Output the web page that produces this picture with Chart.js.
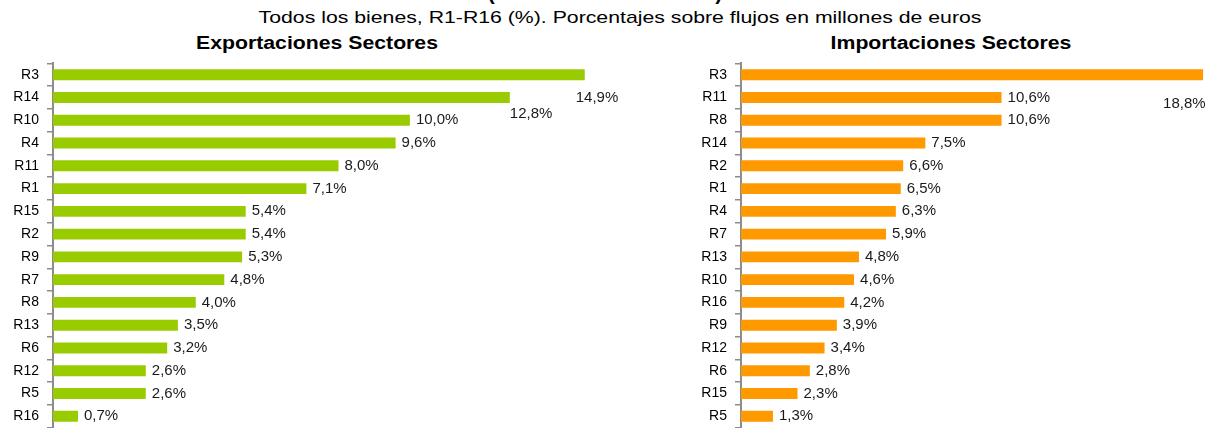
<!DOCTYPE html>
<html>
<head>
<meta charset="utf-8">
<script src="https://cdn.jsdelivr.net/npm/chart.js@4.4.1/dist/chart.umd.min.js"></script>
<style>
  body { margin: 0; background: #fff; width: 1215px; height: 428px; overflow: hidden; position: relative; font-family: "Liberation Sans", Arial, sans-serif; }
  .t { position: absolute; white-space: nowrap; color: #000; transform-origin: 0 0; }
  #mainTitle { left: 605px; top: -18px; font-size: 21px; line-height: 21px; font-weight: bold; transform: translateX(-50%); }
  #subTitle { left: 620px; top: 8.9px; font-size: 17px; line-height: 17px; transform: scaleX(1.25) translateX(-50%); }
  #expTitle { left: 317px; top: 34.4px; font-size: 18px; line-height: 18px; font-weight: bold; transform: scaleX(1.18) translateX(-50%); }
  #impTitle { left: 951px; top: 34.4px; font-size: 18px; line-height: 18px; font-weight: bold; transform: scaleX(1.18) translateX(-50%); }
  canvas { position: absolute; top: 47px; }
  #expChart { left: 0; }
  #impChart { left: 640px; }
</style>
</head>
<body>
<div class="t" id="mainTitle">(Enero-Diciembre 2015)</div>
<div class="t" id="subTitle">Todos los bienes, R1-R16 (%). Porcentajes sobre flujos en millones de euros</div>
<div class="t" id="expTitle">Exportaciones Sectores</div>
<div class="t" id="impTitle">Importaciones Sectores</div>
<canvas id="expChart" width="640" height="397"></canvas>
<canvas id="impChart" width="575" height="397"></canvas>
<script>
const expCats = ["R3", "R14", "R10", "R4", "R11", "R1", "R15", "R2", "R9", "R7", "R8", "R13", "R6", "R12", "R5", "R16"];
const expVals = [14.9, 12.8, 10.0, 9.6, 8.0, 7.1, 5.4, 5.4, 5.3, 4.8, 4.0, 3.5, 3.2, 2.6, 2.6, 0.7];
const impCats = ["R3", "R11", "R8", "R14", "R2", "R1", "R4", "R7", "R13", "R10", "R16", "R9", "R12", "R6", "R15", "R5"];
const impVals = [18.8, 10.6, 10.6, 7.5, 6.6, 6.5, 6.3, 5.9, 4.8, 4.6, 4.2, 3.9, 3.4, 2.8, 2.3, 1.3];

const FONT = '"Liberation Sans", Arial, sans-serif';

// value labels at the end of each bar (comma decimals, like the original)
const valueLabels = {
    id: "valueLabels",
    afterDatasetsDraw(chart, args, opts) {
        const ctx = chart.ctx;
        const meta = chart.getDatasetMeta(0);
        const vals = chart.data.datasets[0].data;
        const offsets = opts.offsets || {};
        ctx.save();
        ctx.font = "15px " + FONT;
        ctx.fillStyle = "#1a1a1a";
        ctx.textBaseline = "middle";
        ctx.textAlign = "left";
        meta.data.forEach((bar, i) => {
            const off = offsets[i] || [0, 0];
            ctx.fillText(vals[i].toFixed(1).replace(".", ",") + "%", bar.x + 6 + off[0], bar.y + off[1]);
        });
        ctx.restore();
    }
};

function makeChart(id, cats, vals, color, xMax, axisWidth, padRight, offsets) {
    return new Chart(document.getElementById(id), {
        type: "bar",
        data: {
            labels: cats,
            datasets: [{
                data: vals,
                backgroundColor: color,
                borderWidth: 0,
                categoryPercentage: 1,
                barPercentage: 0.48
            }]
        },
        options: {
            indexAxis: "y",
            responsive: false,
            animation: false,
            devicePixelRatio: 1,
            layout: { padding: { top: 0, bottom: 0, left: 0, right: padRight } },
            plugins: {
                legend: { display: false },
                tooltip: { enabled: false },
                valueLabels: { offsets: offsets }
            },
            scales: {
                x: { display: false, min: 0, max: xMax },
                y: {
                    grid: { offset: true, drawOnChartArea: false, drawTicks: true, tickLength: 6, color: "#8c8c8c", lineWidth: 1.5 },
                    border: { display: true, color: "#8c8c8c", width: 2 },
                    ticks: { color: "#000", font: { family: FONT, size: 14 }, padding: 8, autoSkip: false },
                    afterFit: s => { s.width = axisWidth; }
                }
            }
        },
        plugins: [valueLabels]
    });
}

makeChart("expChart", expCats, expVals, "#99cc00", 16, 53, 16, { 0: [-15, 23], 1: [-6, 16.5] });
makeChart("impChart", impCats, impVals, "#ff9900", 19, 101, 7, { 0: [-46, 29] });
</script>
</body>
</html>
